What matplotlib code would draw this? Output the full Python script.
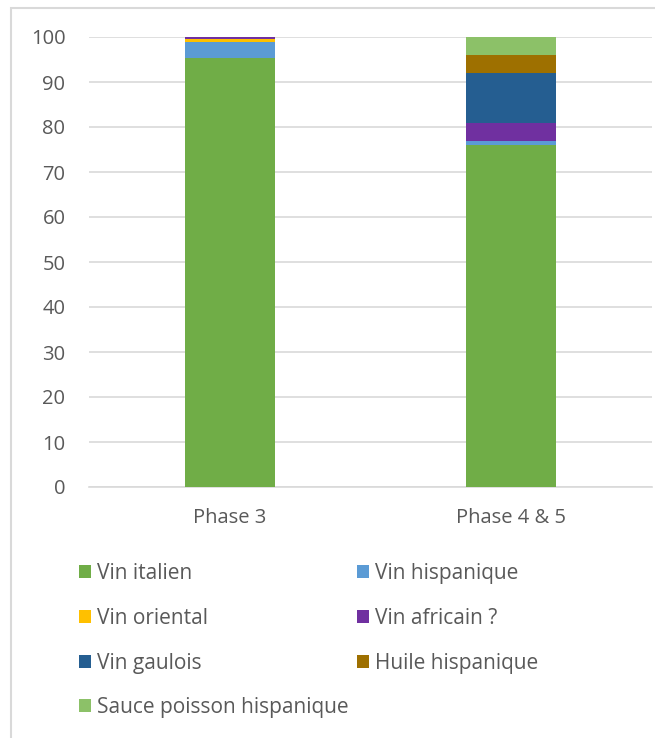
import matplotlib
matplotlib.use("Agg")
import matplotlib.pyplot as plt
from matplotlib.patches import Rectangle, Patch

plt.rcParams['font.family'] = ['Open Sans', 'DejaVu Sans']

categories = ["Phase 3", "Phase 4 & 5"]
series_names = ["Vin italien", "Vin hispanique", "Vin oriental", "Vin africain ?",
                "Vin gaulois", "Huile hispanique", "Sauce poisson hispanique"]
vin_italien = [95.4, 75.9]
vin_hispanique = [3.5, 0.9]
vin_oriental = [0.6, 0.0]
vin_africain = [0.5, 4.2]
vin_gaulois = [0.0, 10.9]
huile_hispanique = [0.0, 4.2]
sauce_poisson = [0.0, 3.9]
yticks = [0, 10, 20, 30, 40, 50, 60, 70, 80, 90, 100]

series = [vin_italien, vin_hispanique, vin_oriental, vin_africain,
          vin_gaulois, huile_hispanique, sauce_poisson]
colors = ["#70AD47", "#5B9BD5", "#FFC000", "#7030A0", "#255E91", "#9E7000", "#8CC168"]

W, H = 655, 738
fig = plt.figure(figsize=(W / 100, H / 100), dpi=100)
ax = fig.add_axes([89 / W, 1 - 487 / H, 563 / W, 450 / H])

x = list(range(len(categories)))
bottom = [0.0] * len(categories)
handles = []
for name, vals, c in zip(series_names, series, colors):
    ax.bar(x, vals, width=0.32, bottom=bottom, color=c, linewidth=0, zorder=3)
    bottom = [b + v for b, v in zip(bottom, vals)]
    handles.append(Patch(facecolor=c, edgecolor='none', label=name))

ax.set_xlim(-0.5, 1.5)
ax.set_ylim(0, 100)
ax.set_yticks(yticks)
ax.set_xticks(x)
ax.set_xticklabels(categories)
ax.yaxis.grid(True, color="#D9D9D9", linewidth=1.2, zorder=0)
for s in ["left", "right", "top"]:
    ax.spines[s].set_visible(False)
ax.spines["bottom"].set_color("#D9D9D9")
ax.spines["bottom"].set_linewidth(1.2)
ax.tick_params(axis='both', length=0, labelsize=14.5, colors="#595959")
ax.tick_params(axis='y', pad=17)
ax.tick_params(axis='x', pad=15)

# chart frame
fig.add_artist(Rectangle((11 / W, -0.1), 1.2, 1.1 - 8 / H, transform=fig.transFigure,
                         fill=False, edgecolor="#D9D9D9", linewidth=1.5))

leg_kw = dict(loc="upper left", frameon=False, fontsize=15.0, handlelength=0.58,
              handleheight=0.58, handletextpad=0.3, labelspacing=1.14, borderpad=0,
              borderaxespad=0, labelcolor="#595959")
col1 = [handles[i] for i in (0, 2, 4, 6)]
col2 = [handles[i] for i in (1, 3, 5)]
l1 = fig.legend(handles=col1, bbox_to_anchor=(79 / W, 1 - 563 / H), **leg_kw)
l2 = fig.legend(handles=col2, bbox_to_anchor=(357 / W, 1 - 563 / H), **leg_kw)

fig.savefig("out.png", dpi=100)
